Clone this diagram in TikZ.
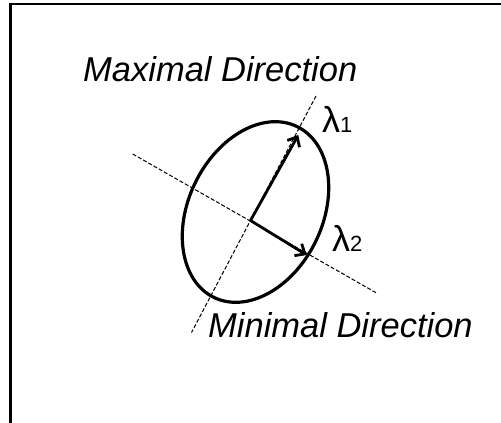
\documentclass[tikz,border=0pt]{standalone}
\usepackage{fontspec}
\setmainfont{Liberation Sans}
\usetikzlibrary{arrows.meta}
\begin{document}
\begin{tikzpicture}[x=1pt,y=-1pt,
  frameline/.style={line width=2.2pt},
  axisline/.style={line width=1pt, dash pattern=on 4pt off 2pt},
  vec/.style={line width=2.8pt, -{Straight Barb[length=8pt,width=14pt]}},
  ellline/.style={line width=3.2pt},
  bigtext/.style={font=\fontsize{34.5}{40}\selectfont\itshape, inner sep=0pt, anchor=base west},
  lam/.style={inner sep=0pt, anchor=base west}]
\useasboundingbox (0,0) rectangle (501,423);
\clip (0,0) rectangle (501,423);
\fill[white] (0,0) rectangle (501,423);
% frame (cut off at right and bottom)
\coordinate (F1) at (10.5,440);
\coordinate (F2) at (10.5,4);
\coordinate (F3) at (520,4);
\draw[frameline] (F1) -- (F2) -- (F3);
% axes
\coordinate (O) at (250.5,220.5);
\coordinate (T1) at (298.3,135);
\coordinate (T2) at (306.7,255);
\coordinate (A1) at (316,96);
\coordinate (A2) at (191.5,332.5);
\coordinate (B1) at (132.7,154);
\coordinate (B2) at (376,292.7);
\draw[axisline] (A1) -- (A2);
\draw[axisline] (B1) -- (B2);
% ellipse
\draw[ellline, shift={(255.5,212)}, rotate=64] (0,0) ellipse [x radius=95pt, y radius=67pt];
% eigenvectors
\draw[vec] (O) -- (T1);
\draw[vec] (O) -- (T2);
% labels
\node[bigtext] (maxd) at (83,81.7) {Maximal Direction};
\node[bigtext] (mind) at (208,337.3) {Minimal Direction};
\node[lam] (l1) at (322,132.7) {\fontsize{36}{40}\selectfont λ\fontsize{22}{24}\selectfont 1};
\node[lam] (l2) at (332,251) {\fontsize{36}{40}\selectfont λ\fontsize{22}{24}\selectfont 2};
\end{tikzpicture}
\end{document}
